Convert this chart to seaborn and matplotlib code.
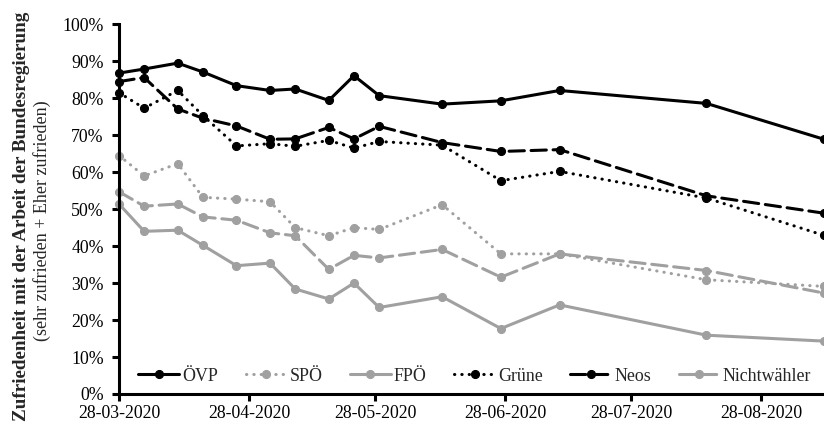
import pandas as pd
import seaborn as sns
import matplotlib
matplotlib.use("Agg")
from matplotlib import pyplot as plt
import matplotlib.dates as mdates
from matplotlib.ticker import PercentFormatter, MultipleLocator

dates = ["2020-03-28", "2020-04-03", "2020-04-11", "2020-04-17", "2020-04-25",
         "2020-05-03", "2020-05-09", "2020-05-17", "2020-05-23", "2020-05-29",
         "2020-06-13", "2020-06-27", "2020-07-11", "2020-08-15", "2020-09-12"]

oevp = [86.8, 87.9, 89.5, 87.1, 83.4, 82.1, 82.5, 79.4, 86.1, 80.7, 78.4, 79.3, 82.1, 78.6, 68.9]
spoe = [64.5, 59.0, 62.3, 53.2, 52.7, 52.0, 45.0, 42.8, 45.0, 44.5, 51.2, 37.9, 37.9, 30.9, 29.1]
fpoe = [51.4, 44.0, 44.3, 40.2, 34.7, 35.4, 28.4, 25.7, 30.0, 23.4, 26.3, 17.7, 24.1, 15.9, 14.3]
gruene = [81.5, 77.3, 82.1, 75.3, 67.1, 67.7, 67.0, 68.6, 66.5, 68.3, 67.3, 57.7, 60.2, 53.0, 42.9]
neos = [84.5, 85.6, 77.1, 74.6, 72.5, 68.9, 69.0, 72.1, 69.0, 72.4, 68.0, 65.6, 66.1, 53.6, 48.9]
nichtwaehler = [54.7, 50.8, 51.4, 47.9, 47.0, 43.6, 42.8, 33.7, 37.5, 36.8, 39.1, 31.6, 37.9, 33.4, 27.3]

parties = ["ÖVP", "SPÖ", "FPÖ", "Grüne", "Neos", "Nichtwähler"]
series = [oevp, spoe, fpoe, gruene, neos, nichtwaehler]

BLACK = "#000000"
GREY = "#A0A0A0"
DOT = (0, (0.1, 2.3))
DASH = (0, (5, 2.2))
styles = {
    "ÖVP": (BLACK, "-"),
    "SPÖ": (GREY, DOT),
    "FPÖ": (GREY, "-"),
    "Grüne": (BLACK, DOT),
    "Neos": (BLACK, DASH),
    "Nichtwähler": (GREY, DASH),
}

df = pd.DataFrame({
    "Datum": pd.to_datetime(dates * len(parties)),
    "Wert": [v for s in series for v in s],
    "Partei": [p for p in parties for _ in dates],
})

sns.set_style("ticks")
plt.rcParams["font.family"] = ["Liberation Serif", "DejaVu Serif"]

fig = plt.figure(figsize=(8.24, 4.24), dpi=100)
ax = fig.add_axes([0.1444, 0.0708, 0.8556, 0.8719])

for p in parties:
    color, ls = styles[p]
    sub = df[df["Partei"] == p]
    sns.lineplot(data=sub, x="Datum", y="Wert", ax=ax, label=p, color=color,
                 linestyle=ls, linewidth=2.2, marker="o", markersize=5.8,
                 markeredgecolor=color, markerfacecolor=color, clip_on=False)

for line in ax.lines:
    line.set_dash_capstyle("round")
    line.set_solid_capstyle("round")

ax.set_ylim(0, 100)
ax.set_xlim(pd.Timestamp(dates[0]), pd.Timestamp(dates[-1]))
ax.yaxis.set_major_locator(MultipleLocator(10))
ax.yaxis.set_major_formatter(PercentFormatter(100, decimals=0))
ax.xaxis.set_major_locator(mdates.MonthLocator(bymonthday=28))
ax.xaxis.set_major_formatter(mdates.DateFormatter("%d-%m-%Y"))
ax.set_xlabel("")
ax.set_ylabel("")

sns.despine(ax=ax)
for side in ["left", "bottom"]:
    ax.spines[side].set_linewidth(2.2)
    ax.spines[side].set_color("black")
ax.tick_params(axis="both", direction="out", length=5, width=2.2, color="black",
               labelsize=12.8, labelcolor="black")
ax.tick_params(axis="y", pad=6)
ax.tick_params(axis="x", pad=3)

handles, labels = ax.get_legend_handles_labels()
ax.legend(handles, labels, ncol=6, frameon=False, loc="center left",
          bbox_to_anchor=(0.168, 0.113), bbox_transform=fig.transFigure,
          fontsize=12.85, handlelength=2.27, handletextpad=0.18,
          columnspacing=1.55, borderpad=0, borderaxespad=0)

fig.text(0.0255, 0.489, "Zufriedenheit mit der Arbeit der Bundesregierung",
         rotation=90, ha="center", va="center", fontsize=13.8, fontweight="bold")
fig.text(0.051, 0.479, "(sehr zufrieden + Eher zufrieden)",
         rotation=90, ha="center", va="center", fontsize=13)

fig.savefig("out.png", dpi=100)
